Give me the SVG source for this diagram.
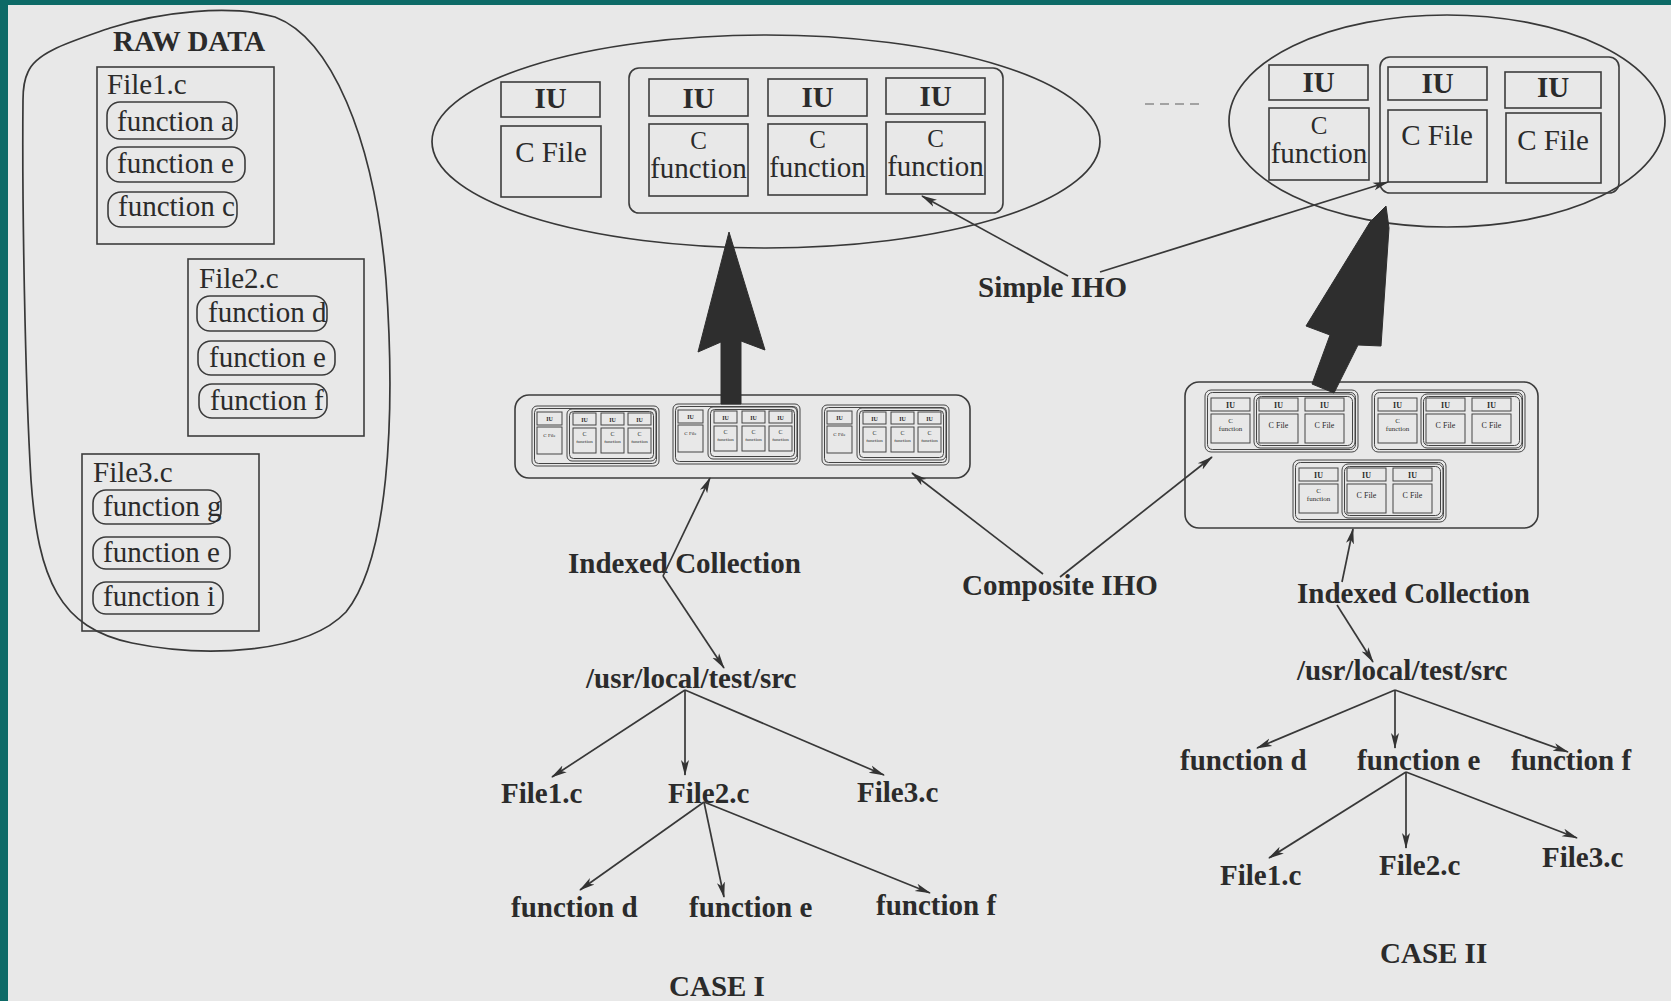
<svg xmlns="http://www.w3.org/2000/svg" xmlns:xlink="http://www.w3.org/1999/xlink" width="1671" height="1001" viewBox="0 0 1671 1001">
<style>
.ln{fill:none;stroke:#383838;stroke-width:1.7}
.bx{fill:none;stroke:#3c3c3c;stroke-width:1.6}
.thin{fill:none;stroke:#444;stroke-width:1}
.t{font-family:"Liberation Serif","Times New Roman",serif;fill:#2b2b2b;font-size:29px}
.b{font-weight:bold}
.m{text-anchor:middle}
.c{font-size:25px}
.thick{fill:#2e2e2e;stroke:#2e2e2e;stroke-width:1}
</style>
<defs>
<marker id="ah" markerWidth="16" markerHeight="10" refX="15" refY="5" orient="auto" markerUnits="userSpaceOnUse">
<path d="M0,1 L16,5 L0,9 L4,5 Z" fill="#333"/>
</marker>
<g id="mL">
<rect class="thin" x="0" y="0" width="127" height="60" rx="5"/>
<rect class="thin" x="2.5" y="2.5" width="122" height="55" rx="4"/>
<rect class="thin" x="5" y="6" width="25" height="13"/>
<rect class="thin" x="5" y="21" width="25" height="27"/>
<rect class="thin" x="35" y="3" width="89" height="52" rx="5"/>
<rect class="thin" x="37.5" y="5.5" width="84" height="47" rx="4"/>
<rect class="thin" x="41" y="7" width="23" height="12"/>
<rect class="thin" x="69" y="7" width="23" height="12"/>
<rect class="thin" x="96" y="7" width="23" height="12"/>
<rect class="thin" x="41" y="22" width="23" height="25"/>
<rect class="thin" x="69" y="22" width="23" height="25"/>
<rect class="thin" x="96" y="22" width="23" height="25"/>
<g class="t m" style="font-size:6px">
<text x="17.5" y="15" class="b">IU</text>
<text x="52.5" y="16" class="b">IU</text>
<text x="80.5" y="16" class="b">IU</text>
<text x="107.5" y="16" class="b">IU</text>
<text x="17.5" y="31" style="font-size:5px">C File</text>
<text x="52.5" y="30">C</text>
<text x="80.5" y="30">C</text>
<text x="107.5" y="30">C</text>
<text x="52.5" y="37" style="font-size:5px">function</text>
<text x="80.5" y="37" style="font-size:5px">function</text>
<text x="107.5" y="37" style="font-size:5px">function</text>
</g>
</g>
<g id="mR">
<rect class="thin" x="0" y="0" width="153" height="62" rx="6"/>
<rect class="thin" x="2.5" y="2.5" width="148" height="57" rx="5"/>
<rect class="thin" x="6" y="8" width="39" height="13"/>
<rect class="thin" x="6" y="24" width="39" height="29"/>
<rect class="thin" x="49" y="4" width="101" height="54" rx="6"/>
<rect class="thin" x="51.5" y="6.5" width="96" height="49" rx="5"/>
<rect class="thin" x="54" y="8" width="39" height="13"/>
<rect class="thin" x="54" y="24" width="39" height="29"/>
<rect class="thin" x="100" y="8" width="39" height="13"/>
<rect class="thin" x="100" y="24" width="39" height="29"/>
<g class="t m" style="font-size:8px">
<text x="25.5" y="18" class="b">IU</text>
<text x="73.5" y="18" class="b">IU</text>
<text x="119.5" y="18" class="b">IU</text>
<text x="25.5" y="33" style="font-size:7px">C</text>
<text x="25.5" y="41" style="font-size:7px">function</text>
<text x="73.5" y="38">C File</text>
<text x="119.5" y="38">C File</text>
</g>
</g>
</defs>

<rect x="0" y="0" width="1671" height="1001" fill="#e8e8e8"/>
<rect x="0" y="0" width="1671" height="5" fill="#0d6a67"/>
<rect x="0" y="0" width="8" height="1001" fill="#0d6a67"/>

<g id="raw-data">
<path class="ln" d="M28,72 C36,52 70,42 110,28 C160,12 230,4 275,17 C330,38 374,135 386,280 C396,420 388,560 346,612 C306,654 205,658 132,643 C60,628 38,580 31,480 C25,380 22,200 23,100 C23,88 25,78 28,72 Z"/>
<text class="t b" x="113" y="51">RAW DATA</text>
</g>

<g id="file1">
<rect class="bx" x="97" y="67" width="177" height="177"/>
<text class="t" x="107" y="94">File1.c</text>
<rect class="bx" x="107" y="102" width="130" height="37" rx="13"/>
<text class="t" x="117" y="131">function a</text>
<rect class="bx" x="107" y="147" width="138" height="35" rx="13"/>
<text class="t" x="117" y="173">function e</text>
<rect class="bx" x="108" y="192" width="129" height="35" rx="13"/>
<text class="t" x="118" y="216">function c</text>
</g>

<g id="file2">
<rect class="bx" x="188" y="259" width="176" height="177"/>
<text class="t" x="199" y="288">File2.c</text>
<rect class="bx" x="197" y="296" width="130" height="35" rx="13"/>
<text class="t" x="208" y="322">function d</text>
<rect class="bx" x="198" y="341" width="137" height="34" rx="13"/>
<text class="t" x="209" y="367">function e</text>
<rect class="bx" x="199" y="384" width="128" height="34" rx="13"/>
<text class="t" x="210" y="410">function f</text>
</g>

<g id="file3">
<rect class="bx" x="82" y="454" width="177" height="177"/>
<text class="t" x="93" y="482">File3.c</text>
<rect class="bx" x="93" y="490" width="128" height="34" rx="13"/>
<text class="t" x="103" y="516">function g</text>
<rect class="bx" x="93" y="537" width="137" height="32" rx="13"/>
<text class="t" x="103" y="562">function e</text>
<rect class="bx" x="93" y="582" width="130" height="32" rx="13"/>
<text class="t" x="103" y="606">function i</text>
</g>

<g id="iho-case1">
<ellipse class="ln" cx="766" cy="141.5" rx="334" ry="106.5"/>
<rect class="bx" x="501" y="82" width="99" height="35"/>
<text class="t b m" x="550.5" y="108">IU</text>
<rect class="bx" x="501" y="126" width="100" height="71"/>
<text class="t m" x="551" y="162">C File</text>
<rect class="bx" x="629" y="68" width="374" height="145" rx="10"/>
<rect class="bx" x="649" y="79" width="99" height="37"/>
<rect class="bx" x="768" y="79" width="99" height="37"/>
<rect class="bx" x="886" y="78" width="99" height="36"/>
<rect class="bx" x="649" y="124" width="99" height="72"/>
<rect class="bx" x="768" y="124" width="99" height="71"/>
<rect class="bx" x="886" y="122" width="99" height="72"/>
<text class="t b m" x="698.5" y="108">IU</text>
<text class="t b m" x="817.5" y="107">IU</text>
<text class="t b m" x="935.5" y="106">IU</text>
<text class="t m c" x="698.5" y="149">C</text>
<text class="t m c" x="817.5" y="148">C</text>
<text class="t m c" x="935.5" y="147">C</text>
<text class="t m" x="698.5" y="178">function</text>
<text class="t m" x="817.5" y="177">function</text>
<text class="t m" x="935.5" y="176">function</text>
</g>

<g id="iho-case2">
<ellipse class="ln" cx="1447" cy="121" rx="218" ry="106"/>
<rect class="bx" x="1269" y="65" width="99" height="35"/>
<text class="t b m" x="1318.5" y="92">IU</text>
<rect class="bx" x="1269" y="108" width="100" height="72"/>
<text class="t m c" x="1319" y="134">C</text>
<text class="t m" x="1319" y="163">function</text>
<rect class="bx" x="1380" y="57" width="239" height="136" rx="10"/>
<rect class="bx" x="1388" y="67" width="99" height="33"/>
<text class="t b m" x="1437.5" y="93">IU</text>
<rect class="bx" x="1388" y="110" width="99" height="72"/>
<text class="t m" x="1437" y="145">C File</text>
<rect class="bx" x="1505" y="72" width="96" height="36"/>
<text class="t b m" x="1553" y="97">IU</text>
<rect class="bx" x="1506" y="113" width="95" height="70"/>
<text class="t m" x="1553" y="150">C File</text>
</g>

<line x1="1145" y1="104" x2="1205" y2="104" stroke="#8a8a8a" stroke-width="1.5" stroke-dasharray="9 6"/>

<g id="indexed-case1">
<rect class="bx" x="515" y="395" width="455" height="83" rx="14"/>
<use xlink:href="#mL" x="532" y="406"/>
<use xlink:href="#mL" x="673" y="404"/>
<use xlink:href="#mL" x="822" y="405"/>
</g>

<g id="indexed-case2">
<rect class="bx" x="1185" y="382" width="353" height="146" rx="14"/>
<use xlink:href="#mR" x="1205" y="390"/>
<use xlink:href="#mR" x="1372" y="390"/>
<use xlink:href="#mR" x="1293" y="460"/>
</g>

<g id="labels">
<text class="t b" x="978" y="297">Simple IHO</text>
<text class="t b" x="962" y="595">Composite IHO</text>
<text class="t b" x="568" y="573">Indexed Collection</text>
<text class="t b" x="1297" y="603">Indexed Collection</text>
</g>

<g id="tree-case1">
<text class="t b" x="586" y="688">/usr/local/test/src</text>
<text class="t b" x="501" y="803">File1.c</text>
<text class="t b" x="668" y="803">File2.c</text>
<text class="t b" x="857" y="802">File3.c</text>
<text class="t b" x="511" y="917">function d</text>
<text class="t b" x="689" y="917">function e</text>
<text class="t b" x="876" y="915">function f</text>
<text class="t b" x="669" y="996">CASE I</text>
</g>

<g id="tree-case2">
<text class="t b" x="1297" y="680">/usr/local/test/src</text>
<text class="t b" x="1180" y="770">function d</text>
<text class="t b" x="1357" y="770">function e</text>
<text class="t b" x="1511" y="770">function f</text>
<text class="t b" x="1220" y="885">File1.c</text>
<text class="t b" x="1379" y="875">File2.c</text>
<text class="t b" x="1542" y="867">File3.c</text>
<text class="t b" x="1380" y="963">CASE II</text>
</g>

<g id="connectors">
<polygon class="thick" points="729,232 765,350 741,341 741,404 721,404 721,342 698,352"/>
<polygon class="thick" points="1386,206 1389,228 1381,346 1358,345 1334,393 1312,384 1330,335 1306,326 1370,222"/>
<g marker-end="url(#ah)">
<line class="ln" x1="1068" y1="276" x2="922" y2="196"/>
<line class="ln" x1="1100" y1="272" x2="1388" y2="182"/>
<line class="ln" x1="1043" y1="574" x2="912" y2="473"/>
<line class="ln" x1="1060" y1="577" x2="1212" y2="457"/>
<line class="ln" x1="663" y1="576" x2="710" y2="478"/>
<line class="ln" x1="663" y1="576" x2="724" y2="668"/>
<line class="ln" x1="685" y1="690" x2="552" y2="777"/>
<line class="ln" x1="685" y1="690" x2="685" y2="775"/>
<line class="ln" x1="685" y1="690" x2="884" y2="775"/>
<line class="ln" x1="704" y1="802" x2="580" y2="890"/>
<line class="ln" x1="704" y1="802" x2="724" y2="897"/>
<line class="ln" x1="704" y1="802" x2="930" y2="893"/>
<line class="ln" x1="1342" y1="582" x2="1353" y2="529"/>
<line class="ln" x1="1337" y1="605" x2="1373" y2="662"/>
<line class="ln" x1="1395" y1="690" x2="1257" y2="748"/>
<line class="ln" x1="1395" y1="690" x2="1395" y2="748"/>
<line class="ln" x1="1395" y1="690" x2="1568" y2="752"/>
<line class="ln" x1="1406" y1="772" x2="1269" y2="858"/>
<line class="ln" x1="1406" y1="772" x2="1406" y2="848"/>
<line class="ln" x1="1406" y1="772" x2="1577" y2="838"/>
</g>
</g>
</svg>
